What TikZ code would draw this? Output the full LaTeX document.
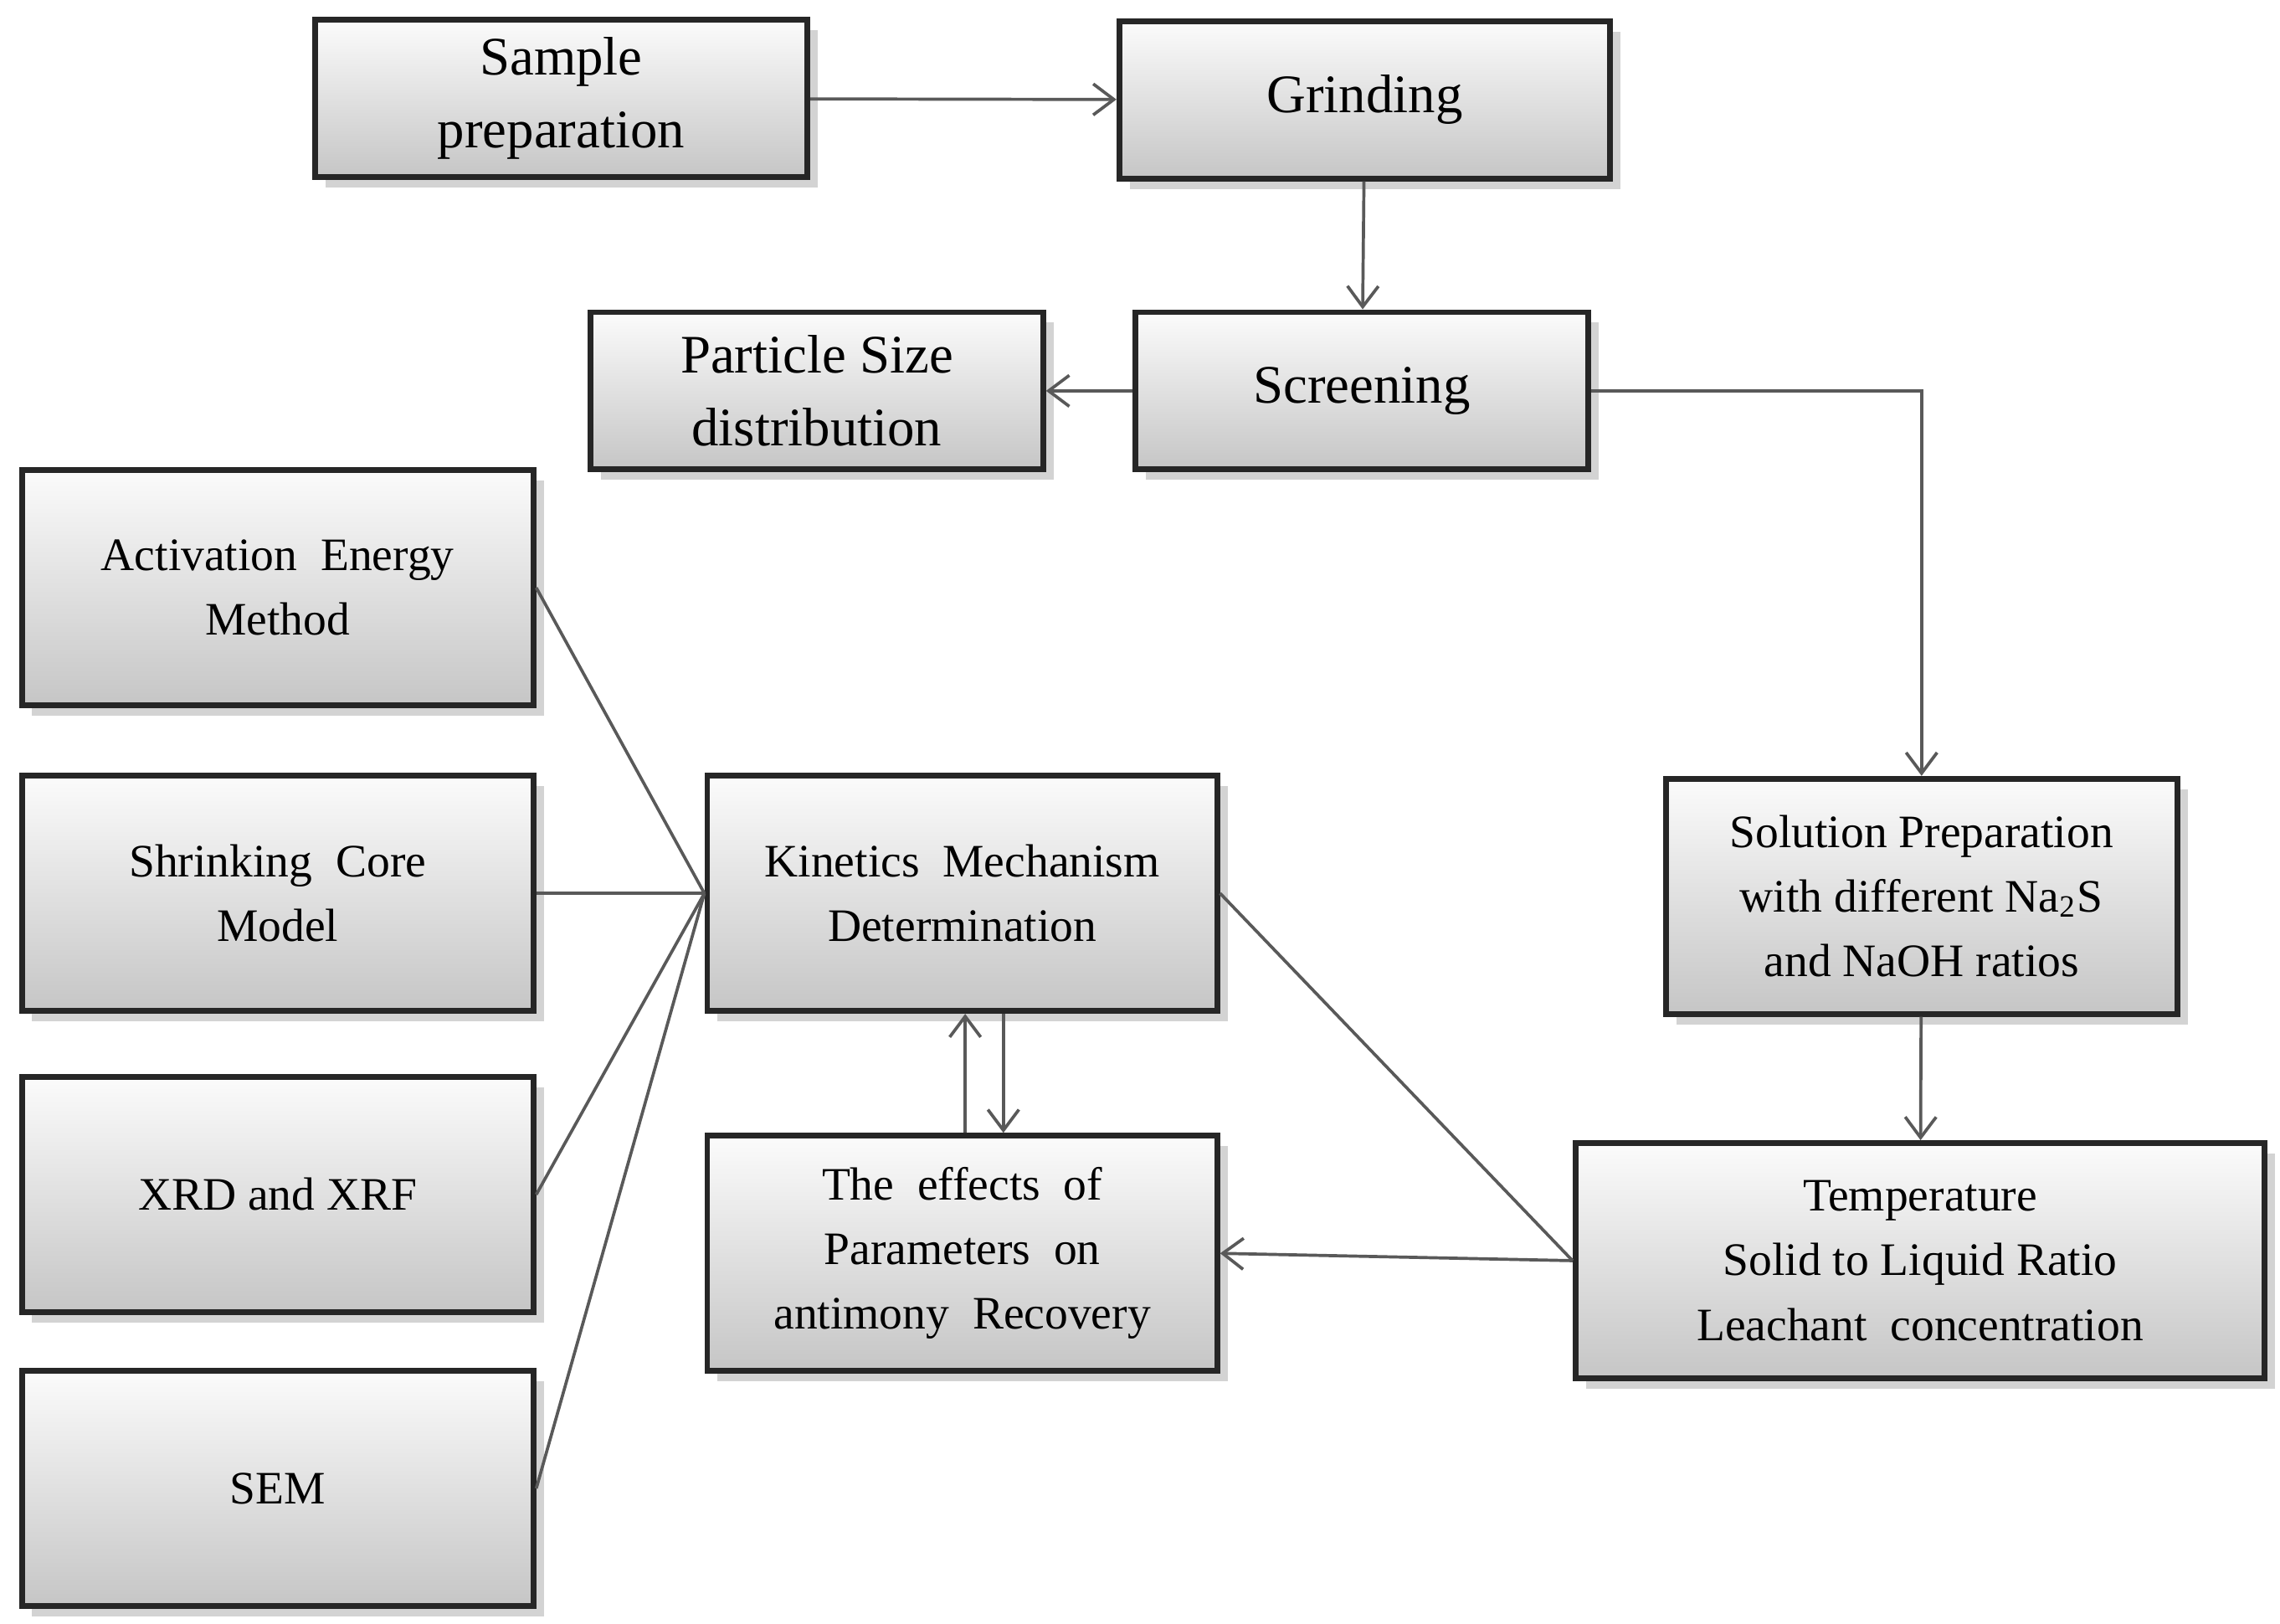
\documentclass[tikz,border=0pt]{standalone}
\usepackage{fontspec}
\setmainfont{Liberation Serif}
\usetikzlibrary{shadows,arrows.meta}

\tikzset{
  stage/.style={draw=black!85, line width=1.1pt, top color=gray!3, bottom color=gray!45,
    drop shadow={shadow xshift=2pt, shadow yshift=-2pt, opacity=.35},
    align=center, inner sep=0pt},
  big/.style={font=\fontsize{10.5}{14}\selectfont},
  small/.style={font=\fontsize{9}{12.5}\selectfont},
  link/.style={draw=gray!70!black, line width=.6pt},
  flow/.style={link, -{Straight Barb[length=4pt,width=6pt]}}
}

\begin{document}
\begin{tikzpicture}[x=0.01cm,y=-0.01cm]
\useasboundingbox (0,0) rectangle (1552,1105);

% Top row
\node[stage, big, minimum width=3.35cm, minimum height=1.07cm] (sample) at (382,67) {Sample\\preparation};
\node[stage, big, minimum width=3.34cm, minimum height=1.07cm] (grind) at (929,68) {Grinding};
\node[stage, big, minimum width=3.08cm, minimum height=1.07cm] (psd) at (556,266) {Particle Size\\distribution};
\node[stage, big, minimum width=3.08cm, minimum height=1.07cm] (screen) at (927,266) {Screening};

% Left column
\node[stage, small, minimum width=3.48cm, minimum height=1.6cm] (act) at (189,400) {Activation~ Energy\\Method};
\node[stage, small, minimum width=3.48cm, minimum height=1.6cm] (core) at (189,608) {Shrinking~ Core\\Model};
\node[stage, small, minimum width=3.48cm, minimum height=1.6cm] (xrd) at (189,813) {XRD and XRF};
\node[stage, small, minimum width=3.48cm, minimum height=1.6cm] (sem) at (189,1013) {SEM};

% Middle and right
\node[stage, small, minimum width=3.47cm, minimum height=1.6cm] (kin) at (655,608) {Kinetics~ Mechanism\\Determination};
\node[stage, small, minimum width=3.47cm, minimum height=1.6cm] (eff) at (655,853) {The~ effects~ of\\Parameters~ on\\antimony~ Recovery};
\node[stage, small, minimum width=3.48cm, minimum height=1.6cm] (sol) at (1308,610) {Solution Preparation\\with different Na\textsubscript{2}S\\and NaOH ratios};
\node[stage, small, minimum width=4.69cm, minimum height=1.6cm] (temp) at (1307,858) {Temperature\\Solid to Liquid Ratio\\Leachant~ concentration};

% Connectors
\draw[flow] (sample) -- (grind);
\draw[flow] (grind) -- (screen);
\draw[flow] (screen) -- (psd);
\draw[flow] (screen.east) -| (sol.north);
\draw[flow] (sol) -- (temp);
\draw[flow] (temp.west) -- (eff.east);
\draw[link] (temp.west) -- (kin.east);
\draw[flow] ([xshift=0.02cm]eff.north) -- ([xshift=0.02cm]kin.south);
\draw[flow] ([xshift=0.28cm]kin.south) -- ([xshift=0.28cm]eff.north);
\foreach \b in {act,core,xrd,sem}
  \draw[link] (\b.east) -- (kin.west);

\end{tikzpicture}
\end{document}
